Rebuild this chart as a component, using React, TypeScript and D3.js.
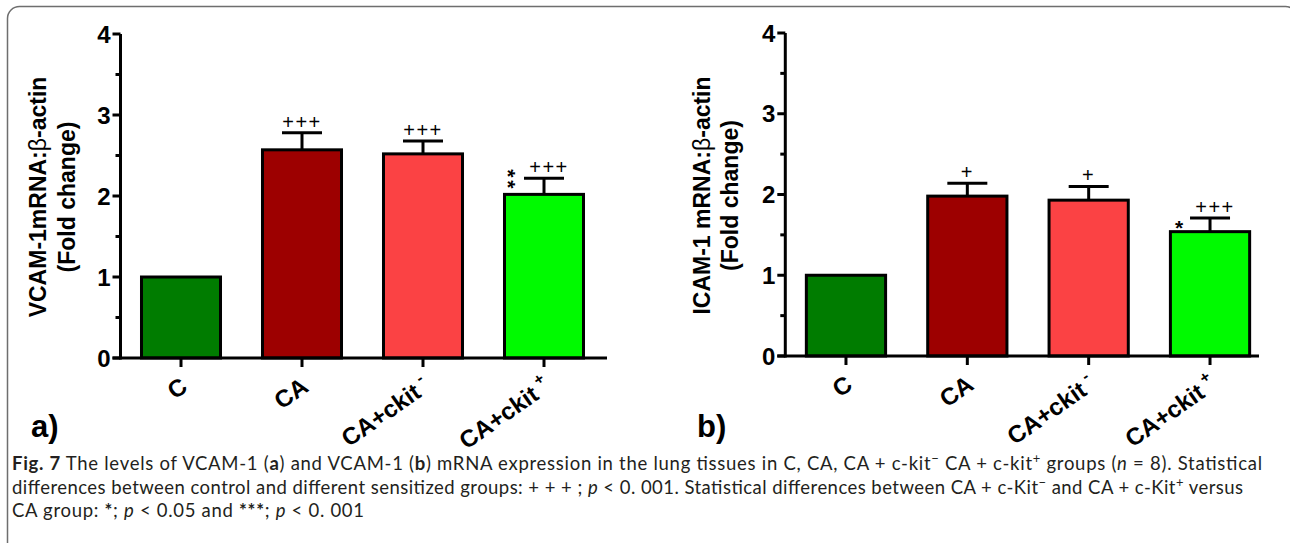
import React from "react";
import * as d3 from "d3";

const categories = ["C", "CA", "CA+ckit", "CA+ckit"];
const categorySup = ["", "", "-", "+"];
const vcamMean = [1.0, 2.57, 2.52, 2.02];
const vcamErr = [0, 0.21, 0.16, 0.2];
const icamMean = [1.0, 1.98, 1.93, 1.54];
const icamErr = [0, 0.16, 0.17, 0.17];
const vcamPlus = ["", "+++", "+++", "+++"];
const vcamStars = [0, 0, 0, 2];
const icamPlus = ["", "+", "+", "+++"];
const icamStars = [0, 0, 0, 1];
const yTicks = [0, 1, 2, 3, 4];
const yMinorTicks = [0.5, 1.5, 2.5, 3.5];
const barColors = ["#007c00", "#9d0000", "#fb4244", "#00fa00"];

const FONT = "'Liberation Sans', Arial, sans-serif";
const CAP_FONT = "Lato, 'Open Sans', sans-serif";

type PanelProps = {
  x0: number;
  x1: number;
  axisEnd: number;
  yBottom: number;
  yTop: number;
  means: number[];
  errs: number[];
  plus: string[];
  stars: number[];
  titleMain: string;
  titleX1: number;
  titleX2: number;
  label: string;
  labelX: number;
};

function Panel(p: PanelProps) {
  const x = d3
    .scaleBand<number>()
    .domain(d3.range(categories.length))
    .range([p.x0, p.x1])
    .paddingInner(0.347)
    .paddingOuter(0.1735);
  const y = d3.scaleLinear().domain([0, 4]).range([p.yBottom, p.yTop]);
  const bw = x.bandwidth();
  const axisX = p.x0;
  const y0 = y(0);
  const titleCy = (y(0) + y(4)) / 2 + 1;
  return (
    <g>
      {p.means.map((m, i) => (
        <rect
          key={"bar" + i}
          x={x(i)}
          y={y(m)}
          width={bw}
          height={y0 - y(m)}
          fill={barColors[i]}
          stroke="#000"
          strokeWidth={3}
        />
      ))}
      {p.means.map((m, i) => {
        const e = p.errs[i];
        if (!e) return null;
        const cx = (x(i) as number) + bw / 2;
        return (
          <g key={"err" + i} stroke="#000" strokeWidth={3}>
            <line x1={cx} x2={cx} y1={y(m)} y2={y(m + e)} />
            <line x1={cx - 20} x2={cx + 20} y1={y(m + e)} y2={y(m + e)} />
          </g>
        );
      })}
      {p.means.map((m, i) => {
        const cx = (x(i) as number) + bw / 2;
        const top = y(m + p.errs[i]);
        const out: any[] = [];
        if (p.plus[i]) {
          out.push(
            <text
              key={"pl" + i}
              x={cx + (p.plus[i].length > 1 && p.stars[i] ? 5 : 0)}
              y={top - 4}
              textAnchor="middle"
              fontFamily={FONT}
              fontSize={20}
              letterSpacing={1.5}
            >
              {p.plus[i]}
            </text>
          );
        }
        if (p.stars[i] === 1) {
          out.push(
            <text
              key={"st" + i}
              x={cx - 31}
              y={top + 17}
              textAnchor="middle"
              fontFamily={FONT}
              fontWeight="bold"
              fontSize={21}
            >
              *
            </text>
          );
        } else if (p.stars[i] > 1) {
          // stacked asterisks drawn as one vertical run of text
          out.push(
            <text
              key={"st" + i}
              transform={`translate(${cx - 43},${top - 9}) rotate(90)`}
              fontFamily={FONT}
              fontWeight="bold"
              fontSize={21}
              letterSpacing={2.8}
            >
              {"*".repeat(p.stars[i])}
            </text>
          );
        }
        return <g key={"ann" + i}>{out}</g>;
      })}
      {/* y axis */}
      <line x1={axisX} x2={axisX} y1={y0 + 1.5} y2={y(4)} stroke="#000" strokeWidth={3} />
      {yTicks.map((t) => (
        <line key={"yt" + t} x1={axisX - 8} x2={axisX} y1={y(t)} y2={y(t)} stroke="#000" strokeWidth={3} />
      ))}
      {yMinorTicks.map((t) => (
        <line key={"ym" + t} x1={axisX - 5} x2={axisX} y1={y(t)} y2={y(t)} stroke="#000" strokeWidth={3} />
      ))}
      {yTicks.map((t) => (
        <text
          key={"yl" + t}
          x={axisX - 10}
          y={y(t)}
          dy="0.36em"
          textAnchor="end"
          fontFamily={FONT}
          fontWeight="bold"
          fontSize={24}
        >
          {t}
        </text>
      ))}
      {/* x axis */}
      <line x1={axisX - 8} x2={p.axisEnd} y1={y0} y2={y0} stroke="#000" strokeWidth={3} />
      {categories.map((c, i) => {
        const cx = (x(i) as number) + bw / 2;
        return (
          <g key={"xt" + i}>
            <line x1={cx} x2={cx} y1={y0} y2={y0 + 9} stroke="#000" strokeWidth={3} />
            <text
              transform={`translate(${cx + 8},${y0 + 32}) rotate(-35)`}
              textAnchor="end"
              fontFamily={FONT}
              fontWeight="bold"
              fontSize={24}
            >
              {c}
              {categorySup[i] ? (
                <tspan dx={5} dy={-11} fontSize={16}>
                  {categorySup[i]}
                </tspan>
              ) : null}
            </text>
          </g>
        );
      })}
      {/* title */}
      <text
        transform={`translate(${p.titleX1},${titleCy}) rotate(-90)`}
        textAnchor="middle"
        fontFamily={FONT}
        fontWeight="bold"
        fontSize={23}
      >
        {p.titleMain}
        <tspan fontWeight="normal">β</tspan>
        -actin
      </text>
      <text
        transform={`translate(${p.titleX2},${titleCy}) rotate(-90)`}
        textAnchor="middle"
        fontFamily={FONT}
        fontWeight="bold"
        fontSize={23}
      >
        (Fold change)
      </text>
      <text x={p.labelX} y={437} fontFamily={FONT} fontWeight="bold" fontSize={31}>
        {p.label}
      </text>
    </g>
  );
}

export default function App() {
  return (
    <svg
      width={1290}
      height={543}
      style={{ position: "absolute", left: 0, top: 0, background: "#fff" }}
    >
      <rect x={0} y={0} width={1290} height={543} fill="#fff" />
      <rect x={7.5} y={6.5} width={1290} height={548} rx={12} fill="none" stroke="#6e6e6e" strokeWidth={1.5} />
      <Panel
        x0={120.5}
        x1={604.5}
        axisEnd={607}
        yBottom={358}
        yTop={34}
        means={vcamMean}
        errs={vcamErr}
        plus={vcamPlus}
        stars={vcamStars}
        titleMain="VCAM-1mRNA:"
        titleX1={46}
        titleX2={75}
        label="a)"
        labelX={31}
      />
      <Panel
        x0={785.3}
        x1={1270.7}
        axisEnd={1259}
        yBottom={356}
        yTop={33}
        means={icamMean}
        errs={icamErr}
        plus={icamPlus}
        stars={icamStars}
        titleMain="ICAM-1 mRNA:"
        titleX1={710}
        titleX2={738}
        label="b)"
        labelX={697}
      />
      <g fontFamily={CAP_FONT} fontSize={18.5} fill="#231f20">
        <text x={12} y={470} textLength={1250} lengthAdjust="spacing">
          <tspan fontWeight="bold">Fig. 7</tspan>
          {"   The levels of VCAM-1 ("}
          <tspan fontWeight="bold">a</tspan>
          {") and VCAM-1 ("}
          <tspan fontWeight="bold">b</tspan>
          {") mRNA expression in the lung tissues in C, CA, CA + c-kit"}
          <tspan dy={-7} fontSize={13}>−</tspan>
          <tspan dy={7}>{" CA + c-kit"}</tspan>
          <tspan dy={-7} fontSize={13}>+</tspan>
          <tspan dy={7}>{" groups ("}</tspan>
          <tspan fontStyle="italic">n</tspan>
          {" = 8). Statistical"}
        </text>
        <text x={12} y={494} textLength={1231} lengthAdjust="spacing">
          {"differences between control and different sensitized groups: + + + ; "}
          <tspan fontStyle="italic">p</tspan>
          {" < 0. 001. Statistical differences between CA + c-Kit"}
          <tspan dy={-7} fontSize={13}>−</tspan>
          <tspan dy={7}>{" and CA + c-Kit"}</tspan>
          <tspan dy={-7} fontSize={13}>+</tspan>
          <tspan dy={7}>{" versus"}</tspan>
        </text>
        <text x={12} y={517} textLength={352} lengthAdjust="spacing">
          {"CA group: "}
          <tspan fontWeight="bold">*</tspan>
          {"; "}
          <tspan fontStyle="italic">p</tspan>
          {" < 0.05 and "}
          <tspan fontWeight="bold">***</tspan>
          {"; "}
          <tspan fontStyle="italic">p</tspan>
          {" < 0. 001"}
        </text>
      </g>
    </svg>
  );
}
